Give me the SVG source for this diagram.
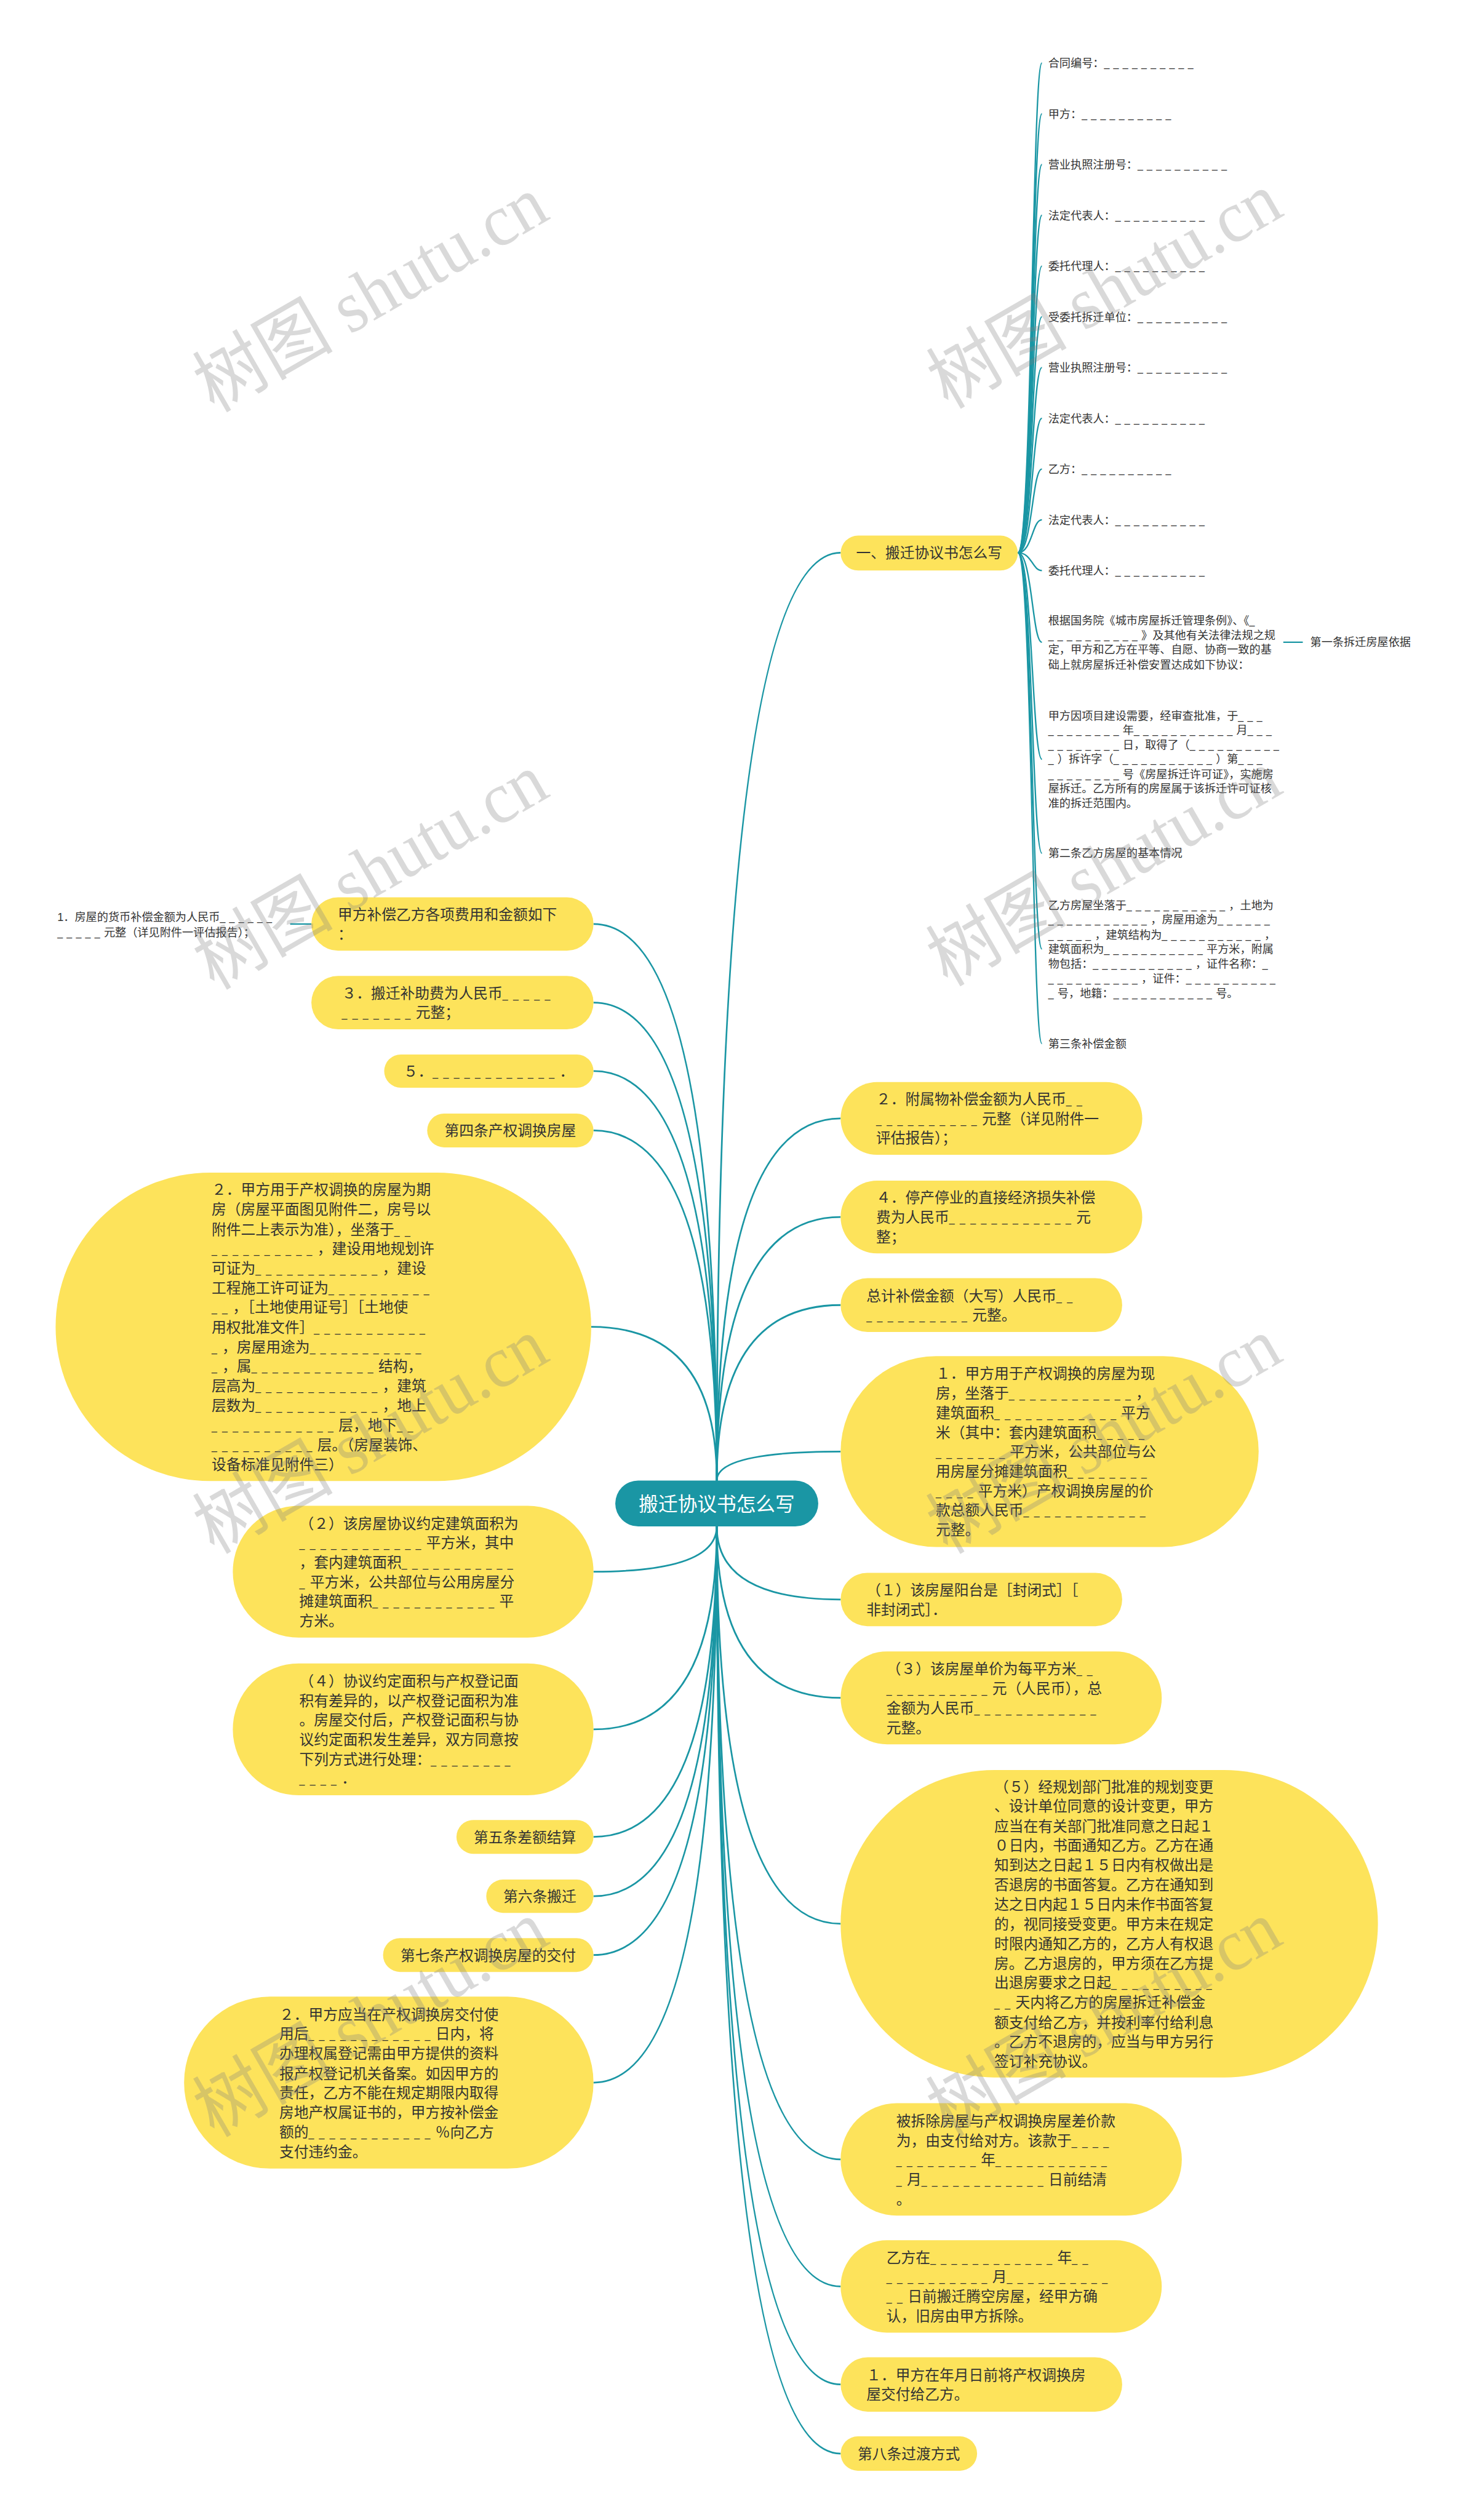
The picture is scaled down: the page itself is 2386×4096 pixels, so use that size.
<svg xmlns="http://www.w3.org/2000/svg" width="2386" height="4096" viewBox="0 0 2386 4096">
<style>
.node{fill:#fde35b}
.root{fill:#1a96a4}
.t{font-family:"Noto Sans","Noto Sans CJK SC",sans-serif;font-size:25.5px;fill:#333}
.s{font-family:"Liberation Sans","Noto Sans CJK SC",sans-serif;font-size:19.5px;fill:#333}
.u{font-family:"Liberation Sans",sans-serif;font-size:17px;letter-spacing:9px}
.us{font-family:"Liberation Sans",sans-serif;font-size:17px;letter-spacing:6.8px}
.rt{font-family:"Noto Sans CJK SC",sans-serif;font-size:34px;fill:#fff}
.m{text-anchor:middle}
.c{fill:none;stroke:#1a96a4;stroke-width:3}
.c2{fill:none;stroke:#1a96a4;stroke-width:2.5}
.wm{font-family:"Liberation Serif","Noto Sans CJK SC",serif;font-size:128px;fill:#808080;fill-opacity:.3;text-anchor:middle}
</style>
<rect width="2386" height="4096" fill="#fff"/>
<g transform="scale(0.932)">
<g id="connectors">
<path class="c" d="M1250,2582 Q1250,964 1466,964"/>
<path class="c" d="M1250,2582 Q1250,1950.5 1466,1950.5"/>
<path class="c" d="M1250,2582 Q1250,2122.5 1466,2122.5"/>
<path class="c" d="M1250,2582 Q1250,2276 1466,2276"/>
<path class="c" d="M1250,2582 Q1250,2531.5 1466,2531.5"/>
<path class="c" d="M1250,2582 Q1250,1611.5 1035,1611.5"/>
<path class="c" d="M1250,2582 Q1250,1748.5 1035,1748.5"/>
<path class="c" d="M1250,2582 Q1250,1868 1035,1868"/>
<path class="c" d="M1250,2582 Q1250,1971.5 1035,1971.5"/>
<path class="c" d="M1250,2582 Q1250,2314 1031,2314"/>
<path class="c" d="M1250,2662 Q1250,2789.5 1466,2789.5"/>
<path class="c" d="M1250,2662 Q1250,2961 1466,2961"/>
<path class="c" d="M1250,2662 Q1250,3355 1466,3355"/>
<path class="c" d="M1250,2662 Q1250,3766 1466,3766"/>
<path class="c" d="M1250,2662 Q1250,3987.5 1466,3987.5"/>
<path class="c" d="M1250,2662 Q1250,4158.5 1466,4158.5"/>
<path class="c" d="M1250,2662 Q1250,4279 1466,4279"/>
<path class="c" d="M1250,2662 Q1250,2741 1035,2741"/>
<path class="c" d="M1250,2662 Q1250,3016 1035,3016"/>
<path class="c" d="M1250,2662 Q1250,3203.5 1035,3203.5"/>
<path class="c" d="M1250,2662 Q1250,3307 1035,3307"/>
<path class="c" d="M1250,2662 Q1250,3409.5 1035,3409.5"/>
<path class="c" d="M1250,2662 Q1250,3632 1035,3632"/>
<path class="c2" d="M1775,964 C1800,964 1800,110 1817,110"/>
<path class="c2" d="M1775,964 C1800,964 1800,198.5 1817,198.5"/>
<path class="c2" d="M1775,964 C1800,964 1800,287 1817,287"/>
<path class="c2" d="M1775,964 C1800,964 1800,375.5 1817,375.5"/>
<path class="c2" d="M1775,964 C1800,964 1800,464 1817,464"/>
<path class="c2" d="M1775,964 C1800,964 1800,552.5 1817,552.5"/>
<path class="c2" d="M1775,964 C1800,964 1800,641 1817,641"/>
<path class="c2" d="M1775,964 C1800,964 1800,729.5 1817,729.5"/>
<path class="c2" d="M1775,964 C1800,964 1800,818 1817,818"/>
<path class="c2" d="M1775,964 C1800,964 1800,906.5 1817,906.5"/>
<path class="c2" d="M1775,964 C1800,964 1800,995 1817,995"/>
<path class="c2" d="M1775,964 C1800,964 1800,1120 1817,1120"/>
<path class="c2" d="M1775,964 C1800,964 1800,1324 1817,1324"/>
<path class="c2" d="M1775,964 C1800,964 1800,1488 1817,1488"/>
<path class="c2" d="M1775,964 C1800,964 1800,1655 1817,1655"/>
<path class="c2" d="M1775,964 C1800,964 1800,1820 1817,1820"/>
<path class="c2" d="M2238,1120 L2272,1120"/>
<path class="c2" d="M506,1611.5 L543,1611.5"/>
</g>

<g id="n-root"><rect class="root" x="1073" y="2582" width="354" height="80" rx="40"/><text class="rt m" x="1250" y="2635">搬迁协议书怎么写</text></g>

<g id="n-r1"><rect class="node" x="1466" y="934" width="309" height="61" rx="30.5"/><text class="t m" x="1620.5" y="973.7">一、搬迁协议书怎么写</text></g>
<g id="n-r1-1"><text class="s" x="1828" y="117.4">合同编号：<tspan class="us">__________</tspan></text></g>
<g id="n-r1-2"><text class="s" x="1828" y="205.9">甲方：<tspan class="us">__________</tspan></text></g>
<g id="n-r1-3"><text class="s" x="1828" y="294.4">营业执照注册号：<tspan class="us">__________</tspan></text></g>
<g id="n-r1-4"><text class="s" x="1828" y="382.9">法定代表人：<tspan class="us">__________</tspan></text></g>
<g id="n-r1-5"><text class="s" x="1828" y="471.4">委托代理人：<tspan class="us">__________</tspan></text></g>
<g id="n-r1-6"><text class="s" x="1828" y="559.9">受委托拆迁单位：<tspan class="us">__________</tspan></text></g>
<g id="n-r1-7"><text class="s" x="1828" y="648.4">营业执照注册号：<tspan class="us">__________</tspan></text></g>
<g id="n-r1-8"><text class="s" x="1828" y="736.9">法定代表人：<tspan class="us">__________</tspan></text></g>
<g id="n-r1-9"><text class="s" x="1828" y="825.4">乙方：<tspan class="us">__________</tspan></text></g>
<g id="n-r1-10"><text class="s" x="1828" y="913.9">法定代表人：<tspan class="us">__________</tspan></text></g>
<g id="n-r1-11"><text class="s" x="1828" y="1002.4">委托代理人：<tspan class="us">__________</tspan></text></g>
<g id="n-r1-12"><text class="s"><tspan x="1828" y="1089">根据国务院《城市房屋拆迁管理条例》、《<tspan class="us">_</tspan></tspan><tspan x="1828" y="1115"><tspan class="us">__________</tspan>》及其他有关法律法规之规</tspan><tspan x="1828" y="1140">定，甲方和乙方在平等、自愿、协商一致的基</tspan><tspan x="1828" y="1166">础上就房屋拆迁补偿安置达成如下协议：</tspan></text></g>
<g id="n-r1-12-1"><text class="s" x="2285" y="1127">第一条拆迁房屋依据</text></g>
<g id="n-r1-13"><text class="s"><tspan x="1828" y="1255">甲方因项目建设需要，经审查批准，于<tspan class="us">___</tspan></tspan><tspan x="1828" y="1280"><tspan class="us">________</tspan>年<tspan class="us">___________</tspan>月<tspan class="us">___</tspan></tspan><tspan x="1828" y="1306"><tspan class="us">________</tspan>日，取得了（<tspan class="us">__________</tspan></tspan><tspan x="1828" y="1331"><tspan class="us">_</tspan>）拆许字（<tspan class="us">___________</tspan>）第<tspan class="us">___</tspan></tspan><tspan x="1828" y="1357"><tspan class="us">________</tspan>号《房屋拆迁许可证》，实施房</tspan><tspan x="1828" y="1382">屋拆迁。乙方所有的房屋属于该拆迁许可证核</tspan><tspan x="1828" y="1408">准的拆迁范围内。</tspan></text></g>
<g id="n-r1-14"><text class="s" x="1828" y="1495">第二条乙方房屋的基本情况</text></g>
<g id="n-r1-15"><text class="s"><tspan x="1828" y="1586">乙方房屋坐落于<tspan class="us">___________</tspan>，土地为</tspan><tspan x="1828" y="1611"><tspan class="us">___________</tspan>，房屋用途为<tspan class="us">______</tspan></tspan><tspan x="1828" y="1637"><tspan class="us">_____</tspan>，建筑结构为<tspan class="us">___________</tspan>，</tspan><tspan x="1828" y="1662">建筑面积为<tspan class="us">___________</tspan>平方米，附属</tspan><tspan x="1828" y="1688">物包括：<tspan class="us">___________</tspan>，证件名称：<tspan class="us">_</tspan></tspan><tspan x="1828" y="1713"><tspan class="us">__________</tspan>，证件：<tspan class="us">__________</tspan></tspan><tspan x="1828" y="1739"><tspan class="us">_</tspan>号，地籍：<tspan class="us">___________</tspan>号。</tspan></text></g>
<g id="n-r1-16"><text class="s" x="1828" y="1827">第三条补偿金额</text></g>

<g id="n-r2"><rect class="node" x="1466" y="1887" width="526" height="127" rx="63.5"/><text class="t"><tspan x="1528" y="1926">２．附属物补偿金额为人民币<tspan class="u">__</tspan></tspan><tspan x="1528" y="1960"><tspan class="u">__________</tspan>元整（详见附件一</tspan><tspan x="1528" y="1994">评估报告）；</tspan></text></g>
<g id="n-r3"><rect class="node" x="1466" y="2059" width="526" height="127" rx="63.5"/><text class="t"><tspan x="1528" y="2098">４．停产停业的直接经济损失补偿</tspan><tspan x="1528" y="2132">费为人民币<tspan class="u">____________</tspan>元</tspan><tspan x="1528" y="2166">整；</tspan></text></g>
<g id="n-r4"><rect class="node" x="1466" y="2229" width="491" height="94" rx="47"/><text class="t"><tspan x="1511" y="2269">总计补偿金额（大写）人民币<tspan class="u">__</tspan></tspan><tspan x="1511" y="2303"><tspan class="u">__________</tspan>元整。</tspan></text></g>
<g id="n-r5"><rect class="node" x="1466" y="2365" width="729" height="333" rx="166.5"/><text class="t"><tspan x="1632" y="2405">１．甲方用于产权调换的房屋为现</tspan><tspan x="1632" y="2439">房，坐落于<tspan class="u">____________</tspan>，</tspan><tspan x="1632" y="2473">建筑面积<tspan class="u">____________</tspan>平方</tspan><tspan x="1632" y="2507">米（其中：套内建筑面积<tspan class="u">_____</tspan></tspan><tspan x="1632" y="2541"><tspan class="u">_______</tspan>平方米，公共部位与公</tspan><tspan x="1632" y="2575">用房屋分摊建筑面积<tspan class="u">________</tspan></tspan><tspan x="1632" y="2609"><tspan class="u">____</tspan>平方米）产权调换房屋的价</tspan><tspan x="1632" y="2643">款总额人民币<tspan class="u">____________</tspan></tspan><tspan x="1632" y="2677">元整。</tspan></text></g>
<g id="n-r6"><rect class="node" x="1466" y="2743" width="491" height="93" rx="46.5"/><text class="t"><tspan x="1511" y="2782">（１）该房屋阳台是［封闭式］［</tspan><tspan x="1511" y="2816">非封闭式］．</tspan></text></g>
<g id="n-r7"><rect class="node" x="1466" y="2880" width="560" height="162" rx="81"/><text class="t"><tspan x="1546" y="2920">（３）该房屋单价为每平方米<tspan class="u">__</tspan></tspan><tspan x="1546" y="2954"><tspan class="u">__________</tspan>元（人民币），总</tspan><tspan x="1546" y="2988">金额为人民币<tspan class="u">____________</tspan></tspan><tspan x="1546" y="3022">元整。</tspan></text></g>
<g id="n-r8"><rect class="node" x="1466" y="3087" width="937" height="536" rx="268"/><text class="t"><tspan x="1734" y="3125">（５）经规划部门批准的规划变更</tspan><tspan x="1734" y="3159">、设计单位同意的设计变更，甲方</tspan><tspan x="1734" y="3194">应当在有关部门批准同意之日起１</tspan><tspan x="1734" y="3228">０日内，书面通知乙方。乙方在通</tspan><tspan x="1734" y="3262">知到达之日起１５日内有权做出是</tspan><tspan x="1734" y="3296">否退房的书面答复。乙方在通知到</tspan><tspan x="1734" y="3330">达之日内起１５日内未作书面答复</tspan><tspan x="1734" y="3365">的，视同接受变更。甲方未在规定</tspan><tspan x="1734" y="3399">时限内通知乙方的，乙方人有权退</tspan><tspan x="1734" y="3433">房。乙方退房的，甲方须在乙方提</tspan><tspan x="1734" y="3467">出退房要求之日起<tspan class="u">__________</tspan></tspan><tspan x="1734" y="3501"><tspan class="u">__</tspan>天内将乙方的房屋拆迁补偿金</tspan><tspan x="1734" y="3536">额支付给乙方，并按利率付给利息</tspan><tspan x="1734" y="3570">。乙方不退房的，应当与甲方另行</tspan><tspan x="1734" y="3604">签订补充协议。</tspan></text></g>
<g id="n-r9"><rect class="node" x="1466" y="3668" width="595" height="196" rx="98"/><text class="t"><tspan x="1563" y="3708">被拆除房屋与产权调换房屋差价款</tspan><tspan x="1563" y="3742">为，由支付给对方。该款于<tspan class="u">____</tspan></tspan><tspan x="1563" y="3776"><tspan class="u">________</tspan>年<tspan class="u">___________</tspan></tspan><tspan x="1563" y="3810"><tspan class="u">_</tspan>月<tspan class="u">____________</tspan>日前结清</tspan><tspan x="1563" y="3844">。</tspan></text></g>
<g id="n-r10"><rect class="node" x="1466" y="3907" width="560" height="161" rx="80.5"/><text class="t"><tspan x="1546" y="3946">乙方在<tspan class="u">____________</tspan>年<tspan class="u">__</tspan></tspan><tspan x="1546" y="3980"><tspan class="u">__________</tspan>月<tspan class="u">__________</tspan></tspan><tspan x="1546" y="4014"><tspan class="u">__</tspan>日前搬迁腾空房屋，经甲方确</tspan><tspan x="1546" y="4048">认，旧房由甲方拆除。</tspan></text></g>
<g id="n-r11"><rect class="node" x="1466" y="4111" width="491" height="95" rx="47.5"/><text class="t"><tspan x="1511" y="4151">１．甲方在年月日前将产权调换房</tspan><tspan x="1511" y="4185">屋交付给乙方。</tspan></text></g>
<g id="n-r12"><rect class="node" x="1466" y="4249" width="238" height="60" rx="30"/><text class="t m" x="1585" y="4289">第八条过渡方式</text></g>

<g id="n-l1"><rect class="node" x="543" y="1565" width="492" height="93" rx="46.5"/><text class="t"><tspan x="589" y="1604">甲方补偿乙方各项费用和金额如下</tspan><tspan x="589" y="1638">：</tspan></text></g>
<g id="n-l1-1"><text class="s"><tspan x="100" y="1606">1．房屋的货币补偿金额为人民币<tspan class="us">______</tspan></tspan><tspan x="100" y="1633"><tspan class="us">_____</tspan>元整（详见附件一评估报告）；</tspan></text></g>
<g id="n-l2"><rect class="node" x="543" y="1702" width="492" height="93" rx="46.5"/><text class="t"><tspan x="596" y="1741">３．搬迁补助费为人民币<tspan class="u">_____</tspan></tspan><tspan x="596" y="1775"><tspan class="u">_______</tspan>元整；</tspan></text></g>
<g id="n-l3"><rect class="node" x="670" y="1839" width="365" height="58" rx="29"/><text class="t m" x="852.5" y="1878">５．<tspan class="u">____________</tspan>．</text></g>
<g id="n-l4"><rect class="node" x="745" y="1942" width="290" height="59" rx="29.5"/><text class="t m" x="890" y="1981">第四条产权调换房屋</text></g>
<g id="n-l5"><rect class="node" x="97" y="2045" width="934" height="538" rx="269"/><text class="t"><tspan x="369" y="2084">２．甲方用于产权调换的房屋为期</tspan><tspan x="369" y="2118">房（房屋平面图见附件二，房号以</tspan><tspan x="369" y="2153">附件二上表示为准），坐落于<tspan class="u">__</tspan></tspan><tspan x="369" y="2187"><tspan class="u">__________</tspan>，建设用地规划许</tspan><tspan x="369" y="2221">可证为<tspan class="u">____________</tspan>，建设</tspan><tspan x="369" y="2255">工程施工许可证为<tspan class="u">__________</tspan></tspan><tspan x="369" y="2289"><tspan class="u">__</tspan>，［土地使用证号］［土地使</tspan><tspan x="369" y="2324">用权批准文件］<tspan class="u">___________</tspan></tspan><tspan x="369" y="2358"><tspan class="u">_</tspan>，房屋用途为<tspan class="u">___________</tspan></tspan><tspan x="369" y="2392"><tspan class="u">_</tspan>，属<tspan class="u">____________</tspan>结构，</tspan><tspan x="369" y="2426">层高为<tspan class="u">____________</tspan>，建筑</tspan><tspan x="369" y="2460">层数为<tspan class="u">____________</tspan>，地上</tspan><tspan x="369" y="2495"><tspan class="u">____________</tspan>层，地下<tspan class="u">__</tspan></tspan><tspan x="369" y="2529"><tspan class="u">__________</tspan>层。（房屋装饰、</tspan><tspan x="369" y="2563">设备标准见附件三）</tspan></text></g>
<g id="n-l6"><rect class="node" x="406" y="2626" width="629" height="230" rx="115"/><text class="t"><tspan x="522" y="2666">（２）该房屋协议约定建筑面积为</tspan><tspan x="522" y="2700"><tspan class="u">____________</tspan>平方米，其中</tspan><tspan x="522" y="2734">，套内建筑面积<tspan class="u">___________</tspan></tspan><tspan x="522" y="2768"><tspan class="u">_</tspan>平方米，公共部位与公用房屋分</tspan><tspan x="522" y="2802">摊建筑面积<tspan class="u">____________</tspan>平</tspan><tspan x="522" y="2836">方米。</tspan></text></g>
<g id="n-l7"><rect class="node" x="406" y="2901" width="629" height="230" rx="115"/><text class="t"><tspan x="522" y="2941">（４）协议约定面积与产权登记面</tspan><tspan x="522" y="2975">积有差异的，以产权登记面积为准</tspan><tspan x="522" y="3009">。房屋交付后，产权登记面积与协</tspan><tspan x="522" y="3043">议约定面积发生差异，双方同意按</tspan><tspan x="522" y="3077">下列方式进行处理：<tspan class="u">________</tspan></tspan><tspan x="522" y="3111"><tspan class="u">____</tspan>．</tspan></text></g>
<g id="n-l8"><rect class="node" x="796" y="3174" width="239" height="59" rx="29.5"/><text class="t m" x="915.5" y="3213">第五条差额结算</text></g>
<g id="n-l9"><rect class="node" x="848" y="3278" width="187" height="58" rx="29"/><text class="t m" x="941.5" y="3317">第六条搬迁</text></g>
<g id="n-l10"><rect class="node" x="668" y="3380" width="367" height="59" rx="29.5"/><text class="t m" x="851.5" y="3419">第七条产权调换房屋的交付</text></g>
<g id="n-l11"><rect class="node" x="321" y="3482" width="714" height="300" rx="150"/><text class="t"><tspan x="487" y="3522">２．甲方应当在产权调换房交付使</tspan><tspan x="487" y="3556">用后<tspan class="u">____________</tspan>日内，将</tspan><tspan x="487" y="3590">办理权属登记需由甲方提供的资料</tspan><tspan x="487" y="3625">报产权登记机关备案。如因甲方的</tspan><tspan x="487" y="3659">责任，乙方不能在规定期限内取得</tspan><tspan x="487" y="3693">房地产权属证书的，甲方按补偿金</tspan><tspan x="487" y="3728">额的<tspan class="u">____________</tspan>％向乙方</tspan><tspan x="487" y="3762">支付违约金。</tspan></text></g>

<g id="watermark">
<text class="wm" x="650" y="555" textLength="680" lengthAdjust="spacingAndGlyphs" transform="rotate(-30 650 519)">树图 shutu.cn</text>
<text class="wm" x="1930" y="549" textLength="680" lengthAdjust="spacingAndGlyphs" transform="rotate(-30 1930 513)">树图 shutu.cn</text>
<text class="wm" x="650" y="1562" textLength="680" lengthAdjust="spacingAndGlyphs" transform="rotate(-30 650 1526)">树图 shutu.cn</text>
<text class="wm" x="1929" y="1556" textLength="680" lengthAdjust="spacingAndGlyphs" transform="rotate(-30 1929 1520)">树图 shutu.cn</text>
<text class="wm" x="650" y="2546" textLength="680" lengthAdjust="spacingAndGlyphs" transform="rotate(-30 650 2510)">树图 shutu.cn</text>
<text class="wm" x="1929" y="2546" textLength="680" lengthAdjust="spacingAndGlyphs" transform="rotate(-30 1929 2510)">树图 shutu.cn</text>
<text class="wm" x="650" y="3563" textLength="680" lengthAdjust="spacingAndGlyphs" transform="rotate(-30 650 3527)">树图 shutu.cn</text>
<text class="wm" x="1929" y="3563" textLength="680" lengthAdjust="spacingAndGlyphs" transform="rotate(-30 1929 3527)">树图 shutu.cn</text>
<text class="wm" x="650" y="4666" textLength="680" lengthAdjust="spacingAndGlyphs" transform="rotate(-30 650 4630)">树图 shutu.cn</text>
<text class="wm" x="1929" y="4666" textLength="680" lengthAdjust="spacingAndGlyphs" transform="rotate(-30 1929 4630)">树图 shutu.cn</text>
</g>
</g>
</svg>
